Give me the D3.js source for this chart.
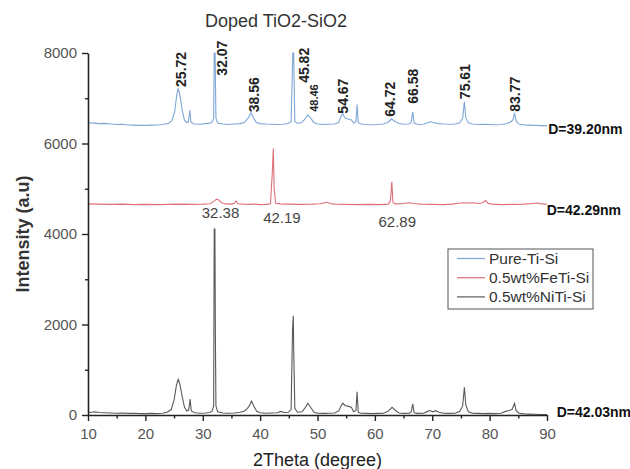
<!DOCTYPE html>
<html>
<head>
<meta charset="utf-8">
<script src="https://cdn.jsdelivr.net/npm/d3@7"></script>
<style>
  body { margin: 0; background: #fff; }
  svg { display: block; font-family: "Liberation Sans", Arial, sans-serif; }
</style>
</head>
<body>
<svg width="630" height="469"></svg>
<script>
// XRD patterns, [2theta, intensity] (offsets already included)
const pureTiSi = [
  [10,6460],[11,6450],[12,6440],[13,6445],[14,6430],[15,6420],[16,6425],[17,6410],[18,6405],[19,6400],
  [20,6400],[21,6405],[22,6410],[23,6420],[24,6440],[24.6,6500],[25.1,6700],[25.5,7100],[25.72,7220],
  [26.0,7080],[26.4,6750],[26.8,6520],[27.2,6460],[27.5,6480],[27.75,6740],[27.95,6470],[28.5,6430],
  [29.5,6425],[30.5,6440],[31.2,6450],[31.6,6470],[31.9,6560],[32.0,8000],[32.15,8000],[32.3,6560],
  [32.6,6450],[33.5,6430],[34.5,6420],[35.5,6430],[36.5,6440],[37.3,6470],[37.9,6560],[38.4,6680],
  [38.8,6580],[39.3,6470],[40,6440],[41,6430],[42,6425],[43,6420],[44,6425],[44.8,6440],[45.4,6480],
  [45.7,8000],[45.85,8000],[46.05,6480],[46.5,6450],[47.2,6460],[47.8,6540],[48.3,6630],[48.8,6560],
  [49.4,6460],[50,6430],[51,6420],[52,6425],[53,6430],[53.7,6470],[54.1,6600],[54.4,6655],[54.8,6560],
  [55.3,6540],[55.9,6520],[56.3,6450],[56.7,6480],[56.9,6860],[57.1,6460],[57.6,6430],[58.5,6420],
  [59.5,6415],[60.5,6420],[61.5,6430],[62.3,6470],[62.9,6540],[63.5,6490],[64.2,6440],[65,6425],
  [65.9,6430],[66.3,6460],[66.6,6700],[66.85,6450],[67.5,6420],[68.5,6425],[69.2,6460],[69.7,6480],
  [70.3,6460],[71,6440],[72,6430],[73,6425],[74,6430],[74.8,6460],[75.3,6560],[75.6,6920],[75.85,6560],
  [76.3,6460],[77,6430],[78,6420],[79,6425],[80,6420],[81,6415],[82,6420],[83,6440],[83.6,6470],
  [84.05,6520],[84.35,6680],[84.6,6500],[85.1,6430],[86,6410],[87,6405],[88,6400],[89,6395],[90,6390]
];

const feTiSi = [
  [10,4665],[12,4660],[14,4655],[16,4660],[18,4650],[20,4655],[22,4650],[24,4655],[26,4660],[28,4655],
  [30,4660],[31.3,4670],[31.9,4720],[32.4,4770],[32.8,4750],[33.3,4690],[34,4665],[35,4660],[35.5,4680],
  [35.8,4730],[36.1,4670],[37,4660],[38,4655],[39,4660],[40,4650],[41,4655],[41.8,4670],[42.1,5300],
  [42.3,5890],[42.45,5000],[42.7,4680],[43.5,4665],[45,4660],[47,4655],[49,4660],[50.5,4670],[51.2,4690],
  [51.6,4700],[52.2,4675],[53,4660],[55,4655],[57,4650],[59,4655],[61,4650],[62.3,4660],[62.7,4720],
  [62.95,5156],[63.15,4700],[63.5,4665],[64.5,4670],[65.3,4680],[66.0,4690],[66.8,4675],[68,4660],
  [70,4655],[72,4650],[73.5,4660],[74.5,4680],[75.5,4690],[76.5,4685],[77.2,4690],[78,4675],[78.8,4690],
  [79.3,4740],[79.7,4680],[80.5,4660],[82,4650],[84,4655],[86,4660],[87.5,4675],[88.3,4685],[89,4665],[90,4660]
];

const niTiSi = [
  [10,65],[10.5,55],[11,70],[12,55],[13,50],[14,45],[15,40],[16,45],[17,35],[18,40],[19,30],[20,30],
  [21,35],[22,30],[23,40],[23.8,60],[24.5,120],[25.0,330],[25.4,650],[25.72,790],[26.0,690],[26.4,420],
  [26.8,180],[27.2,90],[27.55,110],[27.8,350],[28.0,90],[28.6,50],[29.5,40],[30.5,45],[31.2,55],[31.6,80],
  [31.9,200],[32.0,4110],[32.12,4110],[32.2,1800],[32.3,200],[32.6,70],[33.5,45],[34.5,40],[35.5,45],
  [36.5,60],[37.3,90],[37.8,150],[38.1,200],[38.5,310],[38.9,200],[39.4,80],[40,50],[41,40],[42,45],
  [43,50],[43.6,80],[44.2,55],[44.9,60],[45.4,120],[45.65,1900],[45.78,2190],[45.88,1260],[46.05,150],
  [46.5,60],[47.3,70],[47.8,150],[48.3,260],[48.8,170],[49.4,60],[50,40],[51,35],[52,40],[53,45],
  [53.7,90],[54.1,200],[54.4,260],[54.8,210],[55.4,190],[55.9,170],[56.3,70],[56.7,100],[56.9,515],
  [57.1,60],[57.6,40],[58.5,35],[59.5,30],[60.5,35],[61.5,40],[62.3,80],[63.0,170],[63.6,100],[64.2,45],
  [65,35],[66,40],[66.35,70],[66.6,245],[66.85,50],[67.5,35],[68.5,40],[69.2,80],[69.6,100],[70.1,70],
  [70.6,95],[71.2,60],[72,40],[73,35],[74,40],[74.8,80],[75.3,200],[75.6,612],[75.85,220],[76.3,70],
  [77,40],[78,35],[79,30],[80,35],[81,30],[82,40],[82.8,80],[83.4,100],[83.9,120],[84.35,258],[84.6,100],
  [85.1,40],[86,25],[87,20],[88,15],[89,10],[90,10]
];

const seriesNames = ["Pure-Ti-Si", "0.5wt%FeTi-Si", "0.5wt%NiTi-Si"];
const seriesData = [pureTiSi, feTiSi, niTiSi];
const seriesColors = ["#7fa7d6", "#de6f78", "#5a5a5a"];

// peak annotations: text and anchor [2theta, intensity]
const pureLabels = ["25.72", "32.07", "38.56", "45.82", "48.46", "54.67", "64.72", "66.58", "75.61", "83.77"];
const pureLabelAt = [[26.3,7250],[33.4,7500],[38.9,6690],[47.6,7340],[49.5,6700],[54.5,6660],[62.6,6590],[66.7,6880],[75.7,6980],[84.5,6700]];
const feLabels = ["32.38", "42.19", "62.89"];
const feLabelAt = [[33.1,4345],[43.8,4250],[63.9,4160]];
const sizeLabels = ["D=39.20nm", "D=42.29nm", "D=42.03nm"];
const sizeLabelAt = [[90.2,6220],[89.95,4420],[91.7,-40]];

const xTicks = [10, 20, 30, 40, 50, 60, 70, 80, 90];
const xMinor = [15, 25, 35, 45, 55, 65, 75, 85];
const yTicks = [0, 2000, 4000, 6000, 8000];
const yMinor = [1000, 3000, 5000, 7000];

const svg = d3.select("svg");
const x = d3.scaleLinear().domain([10, 90]).range([88, 547]);
const y = d3.scaleLinear().domain([0, 8000]).range([415, 53]);

svg.append("text")
    .attr("x", 205).attr("y", 27)
    .attr("fill", "#333").style("font-size", "18px")
    .text("Doped TiO2-SiO2");

const line = d3.line().x(d => x(d[0])).y(d => y(d[1]));

svg.append("g").selectAll("path")
    .data(seriesData)
    .join("path")
    .attr("d", line)
    .attr("fill", "none")
    .attr("stroke", (d, i) => seriesColors[i])
    .attr("stroke-width", 1.1);

// axes
const yAxis = svg.append("g").attr("transform", `translate(${x(10)},0)`)
    .call(d3.axisLeft(y).tickValues(yTicks).tickFormat(d3.format("d")).tickSize(6).tickPadding(5).tickSizeOuter(0));
svg.append("g").attr("transform", `translate(${x(10)},0)`)
    .call(d3.axisLeft(y).tickValues(yMinor).tickFormat("").tickSize(3).tickSizeOuter(0))
    .select(".domain").remove();

const xAxis = svg.append("g").attr("transform", `translate(0,${y(0)})`)
    .call(d3.axisBottom(x).tickValues(xTicks).tickFormat(d3.format("d")).tickSize(6).tickPadding(7).tickSizeOuter(0));
svg.append("g").attr("transform", `translate(0,${y(0)})`)
    .call(d3.axisBottom(x).tickValues(xMinor).tickFormat("").tickSize(3.5).tickSizeOuter(0))
    .select(".domain").remove();

svg.selectAll(".domain").attr("stroke", "#222").attr("stroke-width", 1.6);
svg.selectAll(".tick line").attr("stroke", "#222").attr("stroke-width", 1.4);
svg.selectAll(".tick text").attr("fill", "#555").style("font-size", "15px")
    .style("font-family", "'Liberation Sans', Arial, sans-serif");

svg.append("text")
    .attr("transform", "translate(23,234) rotate(-90)")
    .attr("text-anchor", "middle").attr("dy", "0.35em")
    .attr("fill", "#333").style("font-size", "18px").style("font-weight", "bold")
    .text("Intensity (a.u)");

svg.append("text")
    .attr("x", (x(10) + x(90)) / 2).attr("y", 466)
    .attr("text-anchor", "middle")
    .attr("fill", "#222").style("font-size", "18px")
    .text("2Theta (degree)");

// peak labels
svg.append("g").selectAll("text")
    .data(pureLabels)
    .join("text")
    .attr("transform", (d, i) => `translate(${x(pureLabelAt[i][0])},${y(pureLabelAt[i][1])}) rotate(-90)`)
    .attr("dy", "0.35em")
    .attr("fill", "#222")
    .style("font-size", d => d === "48.46" ? "11px" : "14px")
    .style("font-weight", "bold")
    .text(d => d);

svg.append("g").selectAll("text")
    .data(feLabels)
    .join("text")
    .attr("x", (d, i) => x(feLabelAt[i][0]))
    .attr("y", (d, i) => y(feLabelAt[i][1]))
    .attr("text-anchor", "middle")
    .attr("fill", "#444").style("font-size", "15px")
    .text(d => d);

svg.append("g").selectAll("text")
    .data(sizeLabels)
    .join("text")
    .attr("x", (d, i) => x(sizeLabelAt[i][0]))
    .attr("y", (d, i) => y(sizeLabelAt[i][1]))
    .attr("fill", "#111").style("font-size", "14px").style("font-weight", "bold")
    .text(d => d);

// legend
const legend = svg.append("g").attr("transform", "translate(448,249)");
legend.append("rect")
    .attr("width", 145).attr("height", 60)
    .attr("fill", "#fff").attr("stroke", "#555").attr("stroke-width", 1);
const item = legend.selectAll("g.item")
    .data(seriesNames)
    .join("g")
    .attr("class", "item")
    .attr("transform", (d, i) => `translate(0,${9.5 + i * 19.2})`);
item.append("line")
    .attr("x1", 9).attr("x2", 37)
    .attr("stroke", (d, i) => seriesColors[i]).attr("stroke-width", 1.2);
item.append("text")
    .attr("x", 41).attr("dy", "0.35em")
    .attr("fill", "#333").style("font-size", "15.5px")
    .text(d => d);
</script>
</body>
</html>
